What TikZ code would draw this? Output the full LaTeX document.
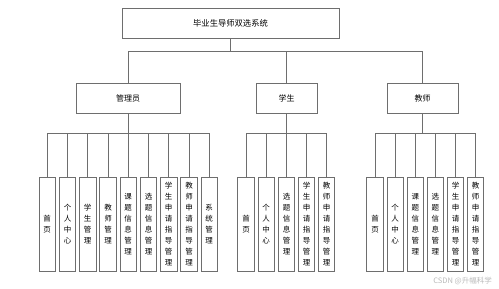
\documentclass[tikz,border=0pt]{standalone}
\usepackage{fontspec}
\setmainfont{Noto Sans CJK SC}
\usepackage{xcolor}
\definecolor{line_gray}{RGB}{110, 110, 110}
\definecolor{mark_gray}{RGB}{185, 185, 185}
\tikzset{
  topbox/.style={draw=line_gray, line width=0.8pt, inner sep=0pt, align=center},
  rolebox/.style={draw=line_gray, line width=0.8pt, inner sep=0pt, minimum height=30pt, align=center, font=\fontsize{8}{10}\selectfont},
  leafbox/.style={draw=line_gray, line width=0.8pt, inner sep=0pt, minimum width=16.5pt, minimum height=94pt, align=center, font=\fontsize{7.5}{11}\selectfont},
  link/.style={line_gray, line width=0.7pt}
}

\begin{document}
\begin{tikzpicture}[x=1pt, y=-1pt]

      \useasboundingbox (0,0) rectangle (499,289);

      % 1. Sistema (arriba)
      \node[topbox, minimum width=217pt, minimum height=30.5pt, font=\fontsize{8.3}{10}\selectfont] (sys) at (230.5,23.3) {毕业生导师双选系统};

      % 2. Roles
      \node[rolebox, minimum width=104pt] (adm) at (128,98) {管理员};
      \node[rolebox, minimum width=61pt] (stu) at (286.5,98) {学生};
      \node[rolebox, minimum width=71pt] (tea) at (422.5,98) {教师};

      \coordinate (bus) at (230.5,51);
      \draw[link] (sys.south) -- (bus);
      \draw[link] (bus) -| (adm.north);
      \draw[link] (bus) -| (stu.north);
      \draw[link] (bus) -| (tea.north);

      % 3. Módulos del administrador
      \node[leafbox] (adm1) at (47.2,224) {首\\页};
      \node[leafbox] (adm2) at (67.5,224) {个\\人\\中\\心};
      \node[leafbox] (adm3) at (87.7,224) {学\\生\\管\\理};
      \node[leafbox] (adm4) at (108,224) {教\\师\\管\\理};
      \node[leafbox] (adm5) at (128.2,224) {课\\题\\信\\息\\管\\理};
      \node[leafbox] (adm6) at (148.5,224) {选\\题\\信\\息\\管\\理};
      \node[leafbox] (adm7) at (168.7,224) {学\\生\\申\\请\\指\\导\\管\\理};
      \node[leafbox] (adm8) at (189,224) {教\\师\\申\\请\\指\\导\\管\\理};
      \node[leafbox] (adm9) at (209.2,224) {系\\统\\管\\理};

      \coordinate (admbus) at (128,133);
      \draw[link] (adm.south) -- (admbus);
      \draw[link] (admbus) -| (adm1.north);
      \draw[link] (admbus) -| (adm2.north);
      \draw[link] (admbus) -| (adm3.north);
      \draw[link] (admbus) -| (adm4.north);
      \draw[link] (admbus) -| (adm5.north);
      \draw[link] (admbus) -| (adm6.north);
      \draw[link] (admbus) -| (adm7.north);
      \draw[link] (admbus) -| (adm8.north);
      \draw[link] (admbus) -| (adm9.north);

      % 4. Módulos del estudiante
      \node[leafbox] (stu1) at (246,224) {首\\页};
      \node[leafbox] (stu2) at (266.2,224) {个\\人\\中\\心};
      \node[leafbox] (stu3) at (286.5,224) {选\\题\\信\\息\\管\\理};
      \node[leafbox] (stu4) at (306.5,224) {学\\生\\申\\请\\指\\导\\管\\理};
      \node[leafbox] (stu5) at (326.5,224) {教\\师\\申\\请\\指\\导\\管\\理};

      \coordinate (stubus) at (286.5,133);
      \draw[link] (stu.south) -- (stubus);
      \draw[link] (stubus) -| (stu1.north);
      \draw[link] (stubus) -| (stu2.north);
      \draw[link] (stubus) -| (stu3.north);
      \draw[link] (stubus) -| (stu4.north);
      \draw[link] (stubus) -| (stu5.north);

      % 5. Módulos del profesor
      \node[leafbox] (tea1) at (375,224) {首\\页};
      \node[leafbox] (tea2) at (395.2,224) {个\\人\\中\\心};
      \node[leafbox] (tea3) at (415.3,224) {课\\题\\信\\息\\管\\理};
      \node[leafbox] (tea4) at (435.4,224) {选\\题\\信\\息\\管\\理};
      \node[leafbox] (tea5) at (455.5,224) {学\\生\\申\\请\\指\\导\\管\\理};
      \node[leafbox] (tea6) at (475.6,224) {教\\师\\申\\请\\指\\导\\管\\理};

      \coordinate (teabus) at (422.5,133);
      \draw[link] (tea.south) -- (teabus);
      \draw[link] (teabus) -| (tea1.north);
      \draw[link] (teabus) -| (tea2.north);
      \draw[link] (teabus) -| (tea3.north);
      \draw[link] (teabus) -| (tea4.north);
      \draw[link] (teabus) -| (tea5.north);
      \draw[link] (teabus) -| (tea6.north);

      % Marca de agua
      \node[anchor=east, text=mark_gray, font=\fontsize{7.5}{9}\selectfont, inner sep=0pt] (mark) at (492,281) {CSDN @升幅科学};

\end{tikzpicture}
\end{document}
